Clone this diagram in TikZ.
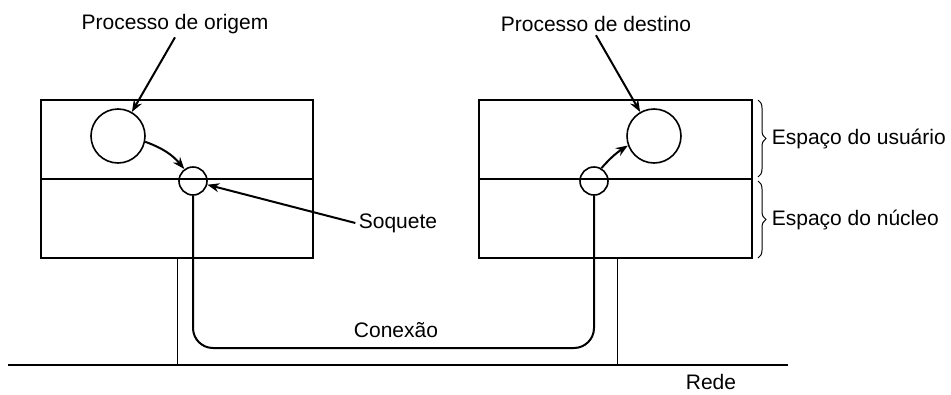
\documentclass[tikz,border=0pt]{standalone}
\usepackage{fontspec}
\setmainfont{Liberation Sans}
\usepackage{tikz}
\usetikzlibrary{arrows.meta, positioning, decorations.pathreplacing}

\begin{document}
\begin{tikzpicture}[
    x=1pt, y=1pt,
    font=\fontsize{21}{25}\selectfont,
    half/.style={rectangle, draw, line width=1.8pt, outer sep=0pt, minimum width=272pt, minimum height=79pt},
    proc/.style={circle, draw, line width=1.6pt, minimum size=54pt, inner sep=0pt},
    sock/.style={circle, draw, line width=1.6pt, minimum size=28pt, inner sep=0pt},
    arrow/.style={-{Stealth[length=12pt, width=9pt]}, line width=2pt},
    conn/.style={line width=2pt, rounded corners=20pt},
    post/.style={line width=1pt},
    brc/.style={decorate, decoration={brace, amplitude=8pt}, line width=1pt}
]
\useasboundingbox (0,0) rectangle (951,-394);

% maquinas
\node[half] (userL) at (177,-139.5) {};
\node[half, below=0pt of userL] (kernL) {};
\node[half, minimum width=273pt] (userR) at (615.5,-139.5) {};
\node[half, minimum width=273pt, below=0pt of userR] (kernR) {};

% rede
\coordinate (gndW) at (8,-365);
\coordinate (gndE) at (788,-365);
\draw[line width=2pt] (gndW) -- (gndE);
\draw[post] (kernL.south) -- (kernL.south |- gndW);
\draw[post] ([xshift=1.5pt]kernR.south) -- ([xshift=1.5pt]kernR.south |- gndW);
\node[inner sep=0pt] (rede) at (711,-382) {Rede};

% conexao
\coordinate (connBot) at (394,-348);
\node[sock] (sockL) at (193,-181) {};
\node[sock] (sockR) at (594,-181) {};
\draw[conn] (sockL.south) |- (connBot) -| (sockR.south);
\node (conexao) at (396,-330) {Conexão};

% processos
\node[proc] (procL) at (118,-136) {};
\node[proc] (procR) at (654,-136) {};
\node (origem) at (175,-24) {Processo de origem};
\node (destino) at (596,-24) {Processo de destino};
\node (soquete) at (398,-223) {Soquete};

\draw[arrow] (origem.south) -- (procL);
\draw[arrow] (destino.south) -- (procR);
\draw[arrow] (soquete.west) -- (sockL);
\draw[arrow] (procL.-12) to[out=-20, in=130] (sockL.126);
\draw[arrow] (sockR.60) to[bend left=8] (procR.200);

% espacos
\draw[brc] ([xshift=6pt]userR.north east) -- ([xshift=6pt, yshift=2pt]userR.south east)
    node[midway, right=10pt] (usuario) {Espaço do usuário};
\draw[brc] ([xshift=6pt, yshift=-2pt]kernR.north east) -- ([xshift=6pt]kernR.south east)
    node[midway, right=10pt] (nucleo) {Espaço do núcleo};

\end{tikzpicture}
\end{document}
